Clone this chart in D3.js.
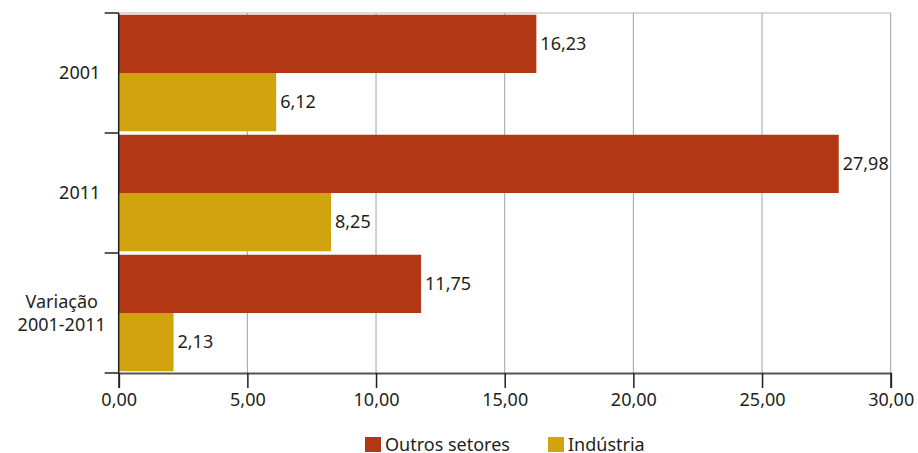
<!DOCTYPE html>
<html>
<head>
<meta charset="utf-8">
<script src="https://cdn.jsdelivr.net/npm/d3@7"></script>
<style>
  body { margin: 0; background: #fff; }
  svg text { font-family: "Noto Sans", sans-serif; fill: #231f20; }
</style>
</head>
<body>
<div id="chart"></div>
<script>
// categories (y axis), one label can span two lines
var categories = ["2001", "2011", "Variação 2001-2011"];
var categoryLines = [["2001"], ["2011"], ["Variação", "2001-2011"]];
var seriesNames = ["Outros setores", "Indústria"];
var outros = [16.23, 27.98, 11.75];
var industria = [6.12, 8.25, 2.13];
var xTicks = [0, 5, 10, 15, 20, 25, 30];

var colors = ["#b23815", "#d1a40f"];

var width = 918, height = 453;
var plotLeft = 118.7, plotRight = 890.7, plotTop = 13, plotBottom = 373;
var fontSize = "18px";

var svg = d3.select("#chart").append("svg")
    .attr("width", width)
    .attr("height", height);

var x = d3.scaleLinear().domain([0, 30]).range([plotLeft, plotRight]);
var y0 = d3.scaleBand().domain(categories).range([plotTop, plotBottom]).paddingInner(0).paddingOuter(0);
var y1 = d3.scaleBand().domain(seriesNames).range([0, y0.bandwidth()]).paddingOuter(0.03).paddingInner(0);

var fmt = function(v) { return d3.format(".2f")(v).replace(".", ","); };

// grid
svg.append("g").selectAll("line")
    .data(xTicks.slice(1))
    .enter().append("line")
    .attr("x1", d => x(d)).attr("x2", d => x(d))
    .attr("y1", plotTop).attr("y2", plotBottom)
    .attr("stroke", "#a3a3a3").attr("stroke-width", 1);

svg.append("line")
    .attr("x1", plotLeft).attr("x2", plotRight)
    .attr("y1", plotTop).attr("y2", plotTop)
    .attr("stroke", "#b5b5b5").attr("stroke-width", 1);

// bars
var rows = categories.map(function(c, i) {
    return [{cat: c, s: seriesNames[0], v: outros[i], k: 0},
            {cat: c, s: seriesNames[1], v: industria[i], k: 1}];
});

var groups = svg.append("g").selectAll("g")
    .data(rows)
    .enter().append("g")
    .attr("transform", d => "translate(0," + y0(d[0].cat) + ")");

groups.selectAll("rect")
    .data(d => d)
    .enter().append("rect")
    .attr("x", x(0))
    .attr("y", d => y1(d.s))
    .attr("width", d => x(d.v) - x(0))
    .attr("height", y1.bandwidth())
    .attr("fill", d => colors[d.k]);

groups.selectAll("text")
    .data(d => d)
    .enter().append("text")
    .attr("x", d => x(d.v) + 4)
    .attr("y", d => y1(d.s) + y1.bandwidth() / 2)
    .attr("dy", "0.35em")
    .style("font-size", fontSize)
    .text(d => fmt(d.v));

// x axis
var xAxis = svg.append("g")
    .attr("transform", "translate(0," + plotBottom + ")")
    .call(d3.axisBottom(x).tickValues(xTicks).tickFormat(fmt).tickSize(15).tickPadding(5));
xAxis.select(".domain").attr("stroke", "#555").attr("stroke-width", 2);
xAxis.selectAll(".tick line").attr("stroke", "#231f20").attr("stroke-width", 1.5);
xAxis.selectAll("text").style("font-size", fontSize).attr("font-family", null).attr("fill", null);

// y axis
var yAxis = svg.append("g")
    .attr("transform", "translate(" + plotLeft + ",0)");
yAxis.append("line")
    .attr("x1", 0).attr("x2", 0).attr("y1", plotTop).attr("y2", plotBottom)
    .attr("stroke", "#231f20").attr("stroke-width", 1.5);
yAxis.selectAll("line.tk")
    .data(d3.range(categories.length + 1))
    .enter().append("line")
    .attr("class", "tk")
    .attr("x1", -14).attr("x2", 0)
    .attr("y1", i => i < categories.length ? y0(categories[i]) : plotBottom)
    .attr("y2", i => i < categories.length ? y0(categories[i]) : plotBottom)
    .attr("stroke", "#231f20").attr("stroke-width", 1.5);

var catText = yAxis.selectAll("text.cat")
    .data(categories)
    .enter().append("text")
    .attr("class", "cat")
    .attr("text-anchor", "middle")
    .style("font-size", fontSize)
    .attr("transform", function(d, i) {
        var n = categoryLines[i].length;
        var cx = n > 1 ? -57 : -39;
        return "translate(" + cx + "," + (y0(d) + y0.bandwidth() / 2) + ")";
    });
catText.each(function(d, i) {
    var lines = categoryLines[i];
    var t = d3.select(this);
    lines.forEach(function(l, j) {
        t.append("tspan")
            .attr("x", 0)
            .attr("y", (j - (lines.length - 1) / 2) * 23)
            .attr("dy", "0.35em")
            .text(l);
    });
});

// legend
var legend = svg.append("g").attr("transform", "translate(365,437)");
var legendX = [0, 183];
seriesNames.forEach(function(s, i) {
    var g = legend.append("g").attr("transform", "translate(" + legendX[i] + ",0)");
    g.append("rect").attr("width", 16).attr("height", 15).attr("fill", colors[i]);
    g.append("text").attr("x", 20).attr("y", 7.5).attr("dy", "0.35em")
        .style("font-size", fontSize).text(s);
});
</script>
</body>
</html>
